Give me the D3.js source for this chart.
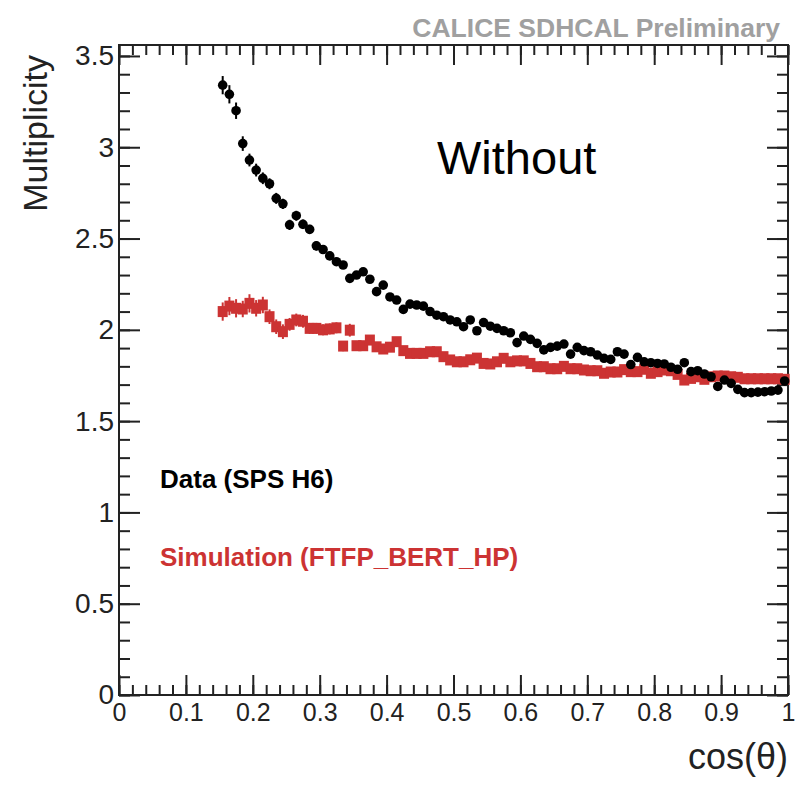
<!DOCTYPE html>
<html>
<head>
<meta charset="utf-8">
<script src="https://cdn.jsdelivr.net/npm/d3@7"></script>
<style>
  body { margin: 0; background: #fff; }
  text { font-family: "Liberation Sans", Arial, sans-serif; }
</style>
</head>
<body>
<div id="chart"></div>
<script>
const cosTheta = [
  0.155,0.165,0.175,0.185,0.195,0.205,0.215,0.225,0.235,0.245,
  0.255,0.265,0.275,0.285,0.295,0.305,0.315,0.325,0.335,0.345,
  0.355,0.365,0.375,0.385,0.395,0.405,0.415,0.425,0.435,0.445,
  0.455,0.465,0.475,0.485,0.495,0.505,0.515,0.525,0.535,0.545,
  0.555,0.565,0.575,0.585,0.595,0.605,0.615,0.625,0.635,0.645,
  0.655,0.665,0.675,0.685,0.695,0.705,0.715,0.725,0.735,0.745,
  0.755,0.765,0.775,0.785,0.795,0.805,0.815,0.825,0.835,0.845,
  0.855,0.865,0.875,0.885,0.895,0.905,0.915,0.925,0.935,0.945,
  0.955,0.965,0.975,0.985,0.995
];

const dataMult = [
  3.34,3.29,3.20,3.02,2.93,2.875,2.83,2.80,2.72,2.69,
  2.575,2.625,2.578,2.55,2.46,2.44,2.405,2.373,2.355,2.282,
  2.30,2.318,2.277,2.209,2.245,2.18,2.163,2.112,2.141,2.136,
  2.13,2.10,2.08,2.072,2.054,2.044,2.017,2.054,1.995,2.04,
  2.02,2.008,1.995,1.984,1.93,1.966,1.948,1.926,1.89,1.904,
  1.911,1.922,1.867,1.904,1.886,1.88,1.862,1.844,1.838,1.88,
  1.867,1.81,1.849,1.825,1.82,1.816,1.813,1.795,1.784,1.82,
  1.771,1.776,1.758,1.743,1.69,1.725,1.707,1.674,1.656,1.656,
  1.659,1.661,1.665,1.67,1.72
];
const dataErr = [
  0.05,0.05,0.045,0.04,0.035,0.035,0.032,0.03,0.03,0.028,
  0.028,0.027,0.026,0.025,0.025,0.024,0.023,0.022,0.022,0.021,
  0.021,0.02,0.02,0.02,0.02,0.02,0.019,0.019,0.019,0.019,
  0.018,0.018,0.018,0.018,0.018,0.017,0.017,0.017,0.017,0.017,
  0.016,0.016,0.016,0.016,0.016,0.016,0.016,0.015,0.015,0.015,
  0.015,0.015,0.015,0.015,0.015,0.015,0.015,0.015,0.015,0.015,
  0.015,0.015,0.015,0.015,0.015,0.015,0.015,0.015,0.015,0.015,
  0.015,0.015,0.015,0.015,0.015,0.015,0.015,0.015,0.015,0.015,
  0.015,0.015,0.015,0.015,0.015
];

const simMult = [
  2.10,2.13,2.118,2.114,2.145,2.118,2.136,2.072,2.017,1.99,
  2.03,2.054,2.047,2.008,2.008,2.0,2.005,2.011,1.911,1.998,
  1.913,1.913,1.944,1.907,1.895,1.905,1.935,1.886,1.871,1.871,
  1.871,1.88,1.88,1.853,1.835,1.825,1.825,1.836,1.845,1.816,
  1.813,1.825,1.844,1.825,1.83,1.83,1.816,1.798,1.798,1.787,
  1.787,1.80,1.787,1.787,1.78,1.776,1.776,1.762,1.769,1.769,
  1.782,1.771,1.771,1.784,1.762,1.771,1.78,1.776,1.756,1.725,
  1.734,1.743,1.729,1.743,1.747,1.747,1.743,1.74,1.732,1.732,
  1.732,1.732,1.732,1.732,1.729
];
const simErr = [
  0.05,0.05,0.05,0.045,0.05,0.045,0.045,0.04,0.04,0.04,
  0.035,0.035,0.035,0.03,0.03,0.03,0.03,0.03,0.028,0.035,
  0.025,0.025,0.025,0.025,0.025,0.025,0.025,0.022,0.022,0.022,
  0.022,0.022,0.022,0.02,0.02,0.02,0.02,0.02,0.02,0.02,
  0.02,0.02,0.02,0.02,0.02,0.02,0.02,0.02,0.02,0.02,
  0.02,0.02,0.02,0.02,0.02,0.02,0.02,0.02,0.02,0.02,
  0.02,0.02,0.02,0.02,0.02,0.02,0.02,0.02,0.02,0.02,
  0.02,0.02,0.02,0.02,0.02,0.02,0.02,0.02,0.02,0.02,
  0.02,0.02,0.02,0.02,0.02
];

const xMajor = [0,0.1,0.2,0.3,0.4,0.5,0.6,0.7,0.8,0.9,1];
const xLabels = ["0","0.1","0.2","0.3","0.4","0.5","0.6","0.7","0.8","0.9","1"];
const yMajor = [0,0.5,1,1.5,2,2.5,3,3.5];
const yLabels = ["0","0.5","1","1.5","2","2.5","3","3.5"];

const svgWidth = 806;
const svgHeight = 786;
const margins = {top: 45, right: 18, bottom: 91, left: 119};
const chartWidth = svgWidth - margins.left - margins.right;
const chartHeight = svgHeight - margins.top - margins.bottom;
const axisColor = "#222";
const red = "#cc3333";

const svg = d3.select("#chart")
    .append("svg")
    .attr("width", svgWidth)
    .attr("height", svgHeight);

const chartGroup = svg.append("g")
    .attr("transform", `translate(${margins.left}, ${margins.top})`);

const xScale = d3.scaleLinear().domain([0, 1]).range([0, chartWidth]);
const yScale = d3.scaleLinear().domain([0, 3.56]).range([chartHeight, 0]);

// minor tick positions, from the scales' own tick generator
const xMinor = xScale.ticks(50);
const yMinor = yScale.ticks(35).filter(v => v <= 3.56);

function styleAxis(g) {
    g.select(".domain").remove();
    g.selectAll("line").attr("stroke", axisColor).attr("stroke-width", 2);
    g.selectAll("text").attr("fill", axisColor);
}

// bottom
chartGroup.append("g")
    .attr("transform", `translate(0, ${chartHeight})`)
    .call(d3.axisBottom(xScale).tickValues(xMinor).tickSize(-10).tickFormat(""))
    .call(styleAxis);
chartGroup.append("g")
    .attr("transform", `translate(0, ${chartHeight})`)
    .call(d3.axisBottom(xScale).tickValues(xMajor).tickSize(-20).tickPadding(8)
        .tickFormat((d, i) => xLabels[i]))
    .call(styleAxis)
    .selectAll("text").attr("font-size", 25).attr("dy", "0.72em");

// top
chartGroup.append("g")
    .call(d3.axisTop(xScale).tickValues(xMinor).tickSize(-10).tickFormat(""))
    .call(styleAxis);
chartGroup.append("g")
    .call(d3.axisTop(xScale).tickValues(xMajor).tickSize(-20).tickFormat(""))
    .call(styleAxis);

// left
chartGroup.append("g")
    .call(d3.axisLeft(yScale).tickValues(yMinor).tickSize(-11).tickFormat(""))
    .call(styleAxis);
chartGroup.append("g")
    .call(d3.axisLeft(yScale).tickValues(yMajor).tickSize(-21).tickPadding(5)
        .tickFormat((d, i) => yLabels[i]))
    .call(styleAxis)
    .selectAll("text").attr("font-size", 28);

// right
chartGroup.append("g")
    .attr("transform", `translate(${chartWidth}, 0)`)
    .call(d3.axisRight(yScale).tickValues(yMinor).tickSize(-11).tickFormat(""))
    .call(styleAxis);
chartGroup.append("g")
    .attr("transform", `translate(${chartWidth}, 0)`)
    .call(d3.axisRight(yScale).tickValues(yMajor).tickSize(-21).tickFormat(""))
    .call(styleAxis);

chartGroup.append("rect")
    .attr("width", chartWidth)
    .attr("height", chartHeight)
    .attr("fill", "none")
    .attr("stroke", axisColor)
    .attr("stroke-width", 2);

const dataPts = cosTheta.map((c, i) => ({x: c, y: dataMult[i], e: dataErr[i]}));
const simPts = cosTheta.map((c, i) => ({x: c, y: simMult[i], e: simErr[i]}));

// simulation: red squares with error bars
chartGroup.selectAll(".simErr")
    .data(simPts)
    .enter()
    .append("line")
    .attr("class", "simErr")
    .attr("x1", d => xScale(d.x))
    .attr("x2", d => xScale(d.x))
    .attr("y1", d => yScale(d.y - d.e))
    .attr("y2", d => yScale(d.y + d.e))
    .attr("stroke", red)
    .attr("stroke-width", 2);

chartGroup.selectAll(".simPt")
    .data(simPts)
    .enter()
    .append("rect")
    .attr("class", "simPt")
    .attr("x", d => xScale(d.x) - 5)
    .attr("y", d => yScale(d.y) - 5.5)
    .attr("width", 10)
    .attr("height", 11)
    .attr("fill", red);

// data: black dots with error bars
chartGroup.selectAll(".dataErr")
    .data(dataPts)
    .enter()
    .append("line")
    .attr("class", "dataErr")
    .attr("x1", d => xScale(d.x))
    .attr("x2", d => xScale(d.x))
    .attr("y1", d => yScale(d.y - d.e))
    .attr("y2", d => yScale(d.y + d.e))
    .attr("stroke", "#000")
    .attr("stroke-width", 2);

chartGroup.selectAll(".dataPt")
    .data(dataPts)
    .enter()
    .append("circle")
    .attr("class", "dataPt")
    .attr("cx", d => xScale(d.x))
    .attr("cy", d => yScale(d.y))
    .attr("r", 4.8)
    .attr("fill", "#000");

// texts
svg.append("text")
    .attr("x", 780)
    .attr("y", 37)
    .attr("text-anchor", "end")
    .attr("font-size", 26.5)
    .attr("font-weight", "bold")
    .attr("fill", "#a0a0a0")
    .text("CALICE SDHCAL Preliminary");

svg.append("text")
    .attr("transform", "translate(47, 55) rotate(-90)")
    .attr("text-anchor", "end")
    .attr("font-size", 34)
    .attr("fill", axisColor)
    .text("Multiplicity");

svg.append("text")
    .attr("x", 788)
    .attr("y", 769)
    .attr("text-anchor", "end")
    .attr("font-size", 36)
    .attr("fill", axisColor)
    .text("cos(θ)");

svg.append("text")
    .attr("x", 437)
    .attr("y", 174)
    .attr("font-size", 47)
    .attr("fill", "#000")
    .text("Without");

svg.append("text")
    .attr("x", 160)
    .attr("y", 488)
    .attr("font-size", 26)
    .attr("font-weight", "bold")
    .attr("fill", "#000")
    .text("Data (SPS H6)");

svg.append("text")
    .attr("x", 160)
    .attr("y", 566)
    .attr("font-size", 26)
    .attr("font-weight", "bold")
    .attr("fill", red)
    .text("Simulation (FTFP_BERT_HP)");
</script>
</body>
</html>
